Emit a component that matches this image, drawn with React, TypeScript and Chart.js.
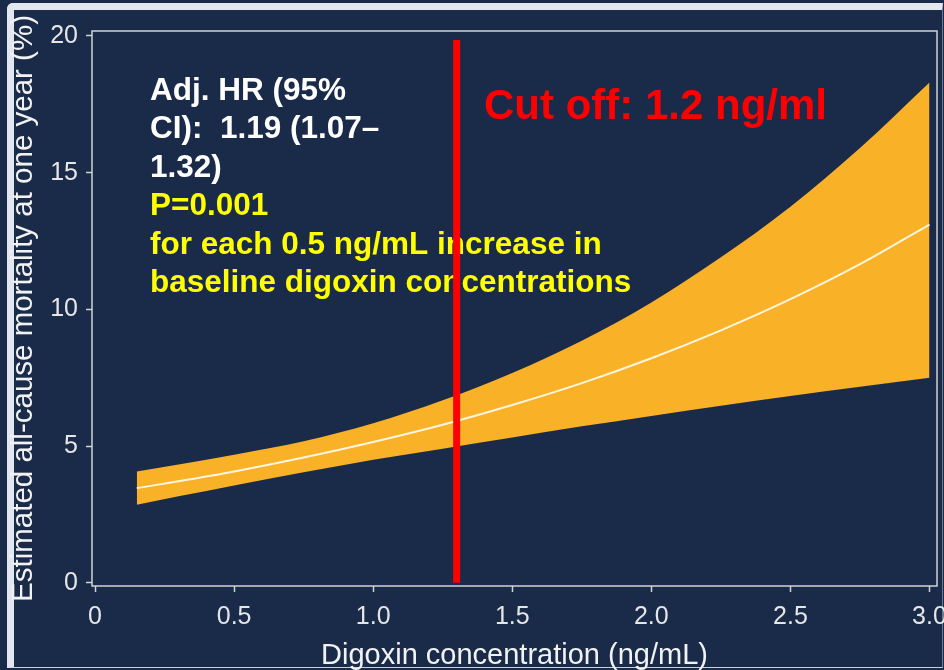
import React, { useEffect, useRef } from "react";
import { Chart, registerables } from "chart.js";

Chart.register(...registerables);

// ---- data ----
const X_VALUES = [0.15, 0.3, 0.5, 0.75, 1.0, 1.25, 1.5, 1.75, 2.0, 2.25, 2.5, 2.75, 3.0];
const ESTIMATE = [3.46, 3.71, 4.07, 4.58, 5.15, 5.78, 6.5, 7.3, 8.21, 9.23, 10.37, 11.65, 13.1];
const UPPER_CI = [4.07, 4.32, 4.68, 5.17, 5.83, 6.67, 7.67, 8.85, 10.25, 11.9, 13.75, 15.9, 18.3];
const LOWER_CI = [2.85, 3.16, 3.56, 4.04, 4.5, 4.9, 5.31, 5.72, 6.1, 6.47, 6.83, 7.17, 7.5];
const CUTOFF_X = [1.3, 1.3];
const CUTOFF_Y = [0, 19.85];

const X_TICKS = [0, 0.5, 1, 1.5, 2, 2.5, 3];
const X_TICK_LABELS = ["0", "0.5", "1.0", "1.5", "2.0", "2.5", "3.0"];
const Y_TICKS = [0, 5, 10, 15, 20];
const Y_TICK_LABELS = ["0", "5", "10", "15", "20"];

const X_TITLE = "Digoxin concentration (ng/mL)";
const Y_TITLE = "Estimated all-cause mortality at one year (%)";
const NOTE_WHITE = ["Adj. HR (95%", "CI):  1.19 (1.07–", "1.32)"];
const NOTE_YELLOW = ["P=0.001", "for each 0.5 ng/mL increase in", "baseline digoxin concentrations"];
const CUTOFF_LABEL = "Cut off: 1.2 ng/ml";

const NAVY = "#1a2b4a";
const ORANGE = "#f9b128";
const AXIS_GREY = "#d2d2d2";
const FONT = "'Liberation Sans', Arial, Helvetica, sans-serif";

const pts = (xs: number[], ys: number[]) => xs.map((x, i) => ({ x, y: ys[i] }));

const overlayPlugin = {
  id: "overlay",
  beforeDatasetsDraw(chart: any) {
    const { ctx, chartArea: a } = chart;
    ctx.save();
    ctx.strokeStyle = AXIS_GREY;
    ctx.lineWidth = 1.5;
    ctx.strokeRect(a.left, a.top, a.right - a.left, a.bottom - a.top);

    ctx.font = `bold 31.5px ${FONT}`;
    ctx.textAlign = "left";
    ctx.textBaseline = "alphabetic";
    const left = a.left + 58;
    const base = a.top + 69;
    const step = 38.4;
    NOTE_WHITE.forEach((t, i) => {
      ctx.fillStyle = "#ffffff";
      ctx.fillText(t, left, base + i * step);
    });
    NOTE_YELLOW.forEach((t, i) => {
      ctx.fillStyle = "#ffff00";
      ctx.fillText(t, left, base + (i + 3) * step);
    });

    ctx.font = `bold 42px ${FONT}`;
    ctx.fillStyle = "#ff0000";
    ctx.fillText(CUTOFF_LABEL, a.left + 392, a.top + 88);
    ctx.restore();
  },
};

export default function App() {
  const ref = useRef<HTMLCanvasElement | null>(null);

  useEffect(() => {
    document.body.style.margin = "0";
    document.body.style.background = NAVY;
    const canvas = ref.current;
    if (!canvas) return;
    const chart = new Chart(canvas, {
      type: "line",
      data: {
        datasets: [
          {
            label: "Lower 95% CI",
            data: pts(X_VALUES, LOWER_CI),
            borderWidth: 0,
            borderColor: ORANGE,
            pointRadius: 0,
            fill: false,
            cubicInterpolationMode: "monotone",
            order: 4,
          },
          {
            label: "Upper 95% CI",
            data: pts(X_VALUES, UPPER_CI),
            borderWidth: 0,
            borderColor: ORANGE,
            backgroundColor: ORANGE,
            pointRadius: 0,
            fill: 0,
            cubicInterpolationMode: "monotone",
            order: 3,
          },
          {
            label: "Estimate",
            data: pts(X_VALUES, ESTIMATE),
            borderWidth: 2,
            borderColor: "#fff6e0",
            pointRadius: 0,
            fill: false,
            cubicInterpolationMode: "monotone",
            order: 2,
          },
          {
            label: "Cut off",
            data: pts(CUTOFF_X, CUTOFF_Y),
            borderWidth: 7,
            borderColor: "#ff0000",
            pointRadius: 0,
            fill: false,
            order: 1,
          },
        ],
      },
      options: {
        responsive: false,
        animation: false,
        events: [],
        layout: { padding: { left: 0, right: 7, top: 31, bottom: 0 } },
        plugins: {
          legend: { display: false },
          tooltip: { enabled: false },
        },
        scales: {
          x: {
            type: "linear",
            min: -0.011,
            max: 3.027,
            afterBuildTicks: (scale: any) => {
              scale.ticks = X_TICKS.map((v) => ({ value: v }));
            },
            afterFit: (scale: any) => {
              scale.height = 84;
              scale.paddingLeft = 0;
              scale.paddingRight = 0;
            },
            border: { display: false },
            grid: {
              drawOnChartArea: false,
              drawTicks: true,
              tickLength: 6,
              tickColor: AXIS_GREY,
              tickWidth: 1.5,
            },
            ticks: {
              color: "#e6e6e6",
              font: { family: FONT, size: 25 },
              padding: 10,
              maxRotation: 0,
              autoSkip: false,
              callback: (v: any) => X_TICK_LABELS[X_TICKS.indexOf(Number(v))] ?? "",
            },
            title: {
              display: true,
              text: X_TITLE,
              color: "#f2f2f2",
              font: { family: FONT, size: 29, lineHeight: 1 },
              padding: 0,
            },
          },
          y: {
            type: "linear",
            min: -0.12,
            max: 20.18,
            afterBuildTicks: (scale: any) => {
              scale.ticks = Y_TICKS.map((v) => ({ value: v }));
            },
            afterFit: (scale: any) => {
              scale.width = 92;
              scale.paddingTop = 0;
              scale.paddingBottom = 0;
            },
            border: { display: false },
            grid: {
              drawOnChartArea: false,
              drawTicks: true,
              tickLength: 6,
              tickColor: AXIS_GREY,
              tickWidth: 1.5,
            },
            ticks: {
              color: "#e6e6e6",
              font: { family: FONT, size: 25 },
              padding: 8,
              autoSkip: false,
              callback: (v: any) => Y_TICK_LABELS[Y_TICKS.indexOf(Number(v))] ?? "",
            },
            title: {
              display: true,
              text: Y_TITLE,
              color: "#f2f2f2",
              font: { family: FONT, size: 29.5, lineHeight: 1 },
              padding: { top: 9.5, bottom: 0 },
            },
          },
        },
      },
      plugins: [overlayPlugin],
    });
    return () => chart.destroy();
  }, []);

  return (
    <div
      style={{
        position: "relative",
        width: 944,
        height: 670,
        background: NAVY,
        overflow: "hidden",
      }}
    >
      <div
        style={{
          position: "absolute",
          left: 7,
          top: 3,
          width: 944 - 7 - 1,
          height: 670 - 3 - 2,
          borderTop: "7px solid #e2e6ee",
          borderLeft: "7px solid #e2e6ee",
          borderBottom: "1px solid #c9cfdb",
          borderRight: "1px solid #6f7a90",
          borderTopLeftRadius: 6,
          boxSizing: "border-box",
        }}
      />
      <canvas
        ref={ref}
        width={944}
        height={670}
        style={{ position: "absolute", left: 0, top: 0, width: 944, height: 670 }}
      />
    </div>
  );
}
